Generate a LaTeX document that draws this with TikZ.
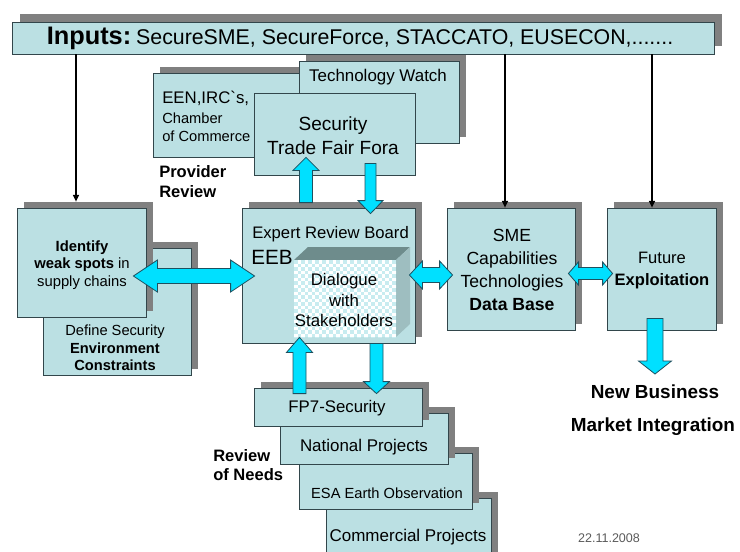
\documentclass[tikz,border=0pt]{standalone}
\usepackage{fontspec}
\setmainfont{Liberation Sans}
\newfontfamily\nolig{Liberation Sans}
\usetikzlibrary{shadows,calc,arrows.meta,fit}
\definecolor{boxfill}{RGB}{187,224,227}
\definecolor{boxline}{RGB}{50,70,75}
\definecolor{shgray}{RGB}{128,128,128}
\definecolor{arrfill}{RGB}{0,224,255}
\definecolor{arrline}{RGB}{30,80,95}
\definecolor{cubetop}{RGB}{110,140,140}
\definecolor{cubeside}{RGB}{158,190,192}
\definecolor{checker}{RGB}{200,236,240}
\definecolor{dategray}{RGB}{90,90,90}
\newcommand\fs[2]{\fontsize{#1}{#2}\selectfont}
\tikzset{
 flat/.style={draw=boxline, fill=boxfill, line width=0.6pt, inner sep=0pt},
 box/.style={flat, drop shadow={shadow xshift=5.25pt, shadow yshift=4.5pt, opacity=1, fill=shgray}},
 fat/.style={fill=arrfill, draw=arrline, line width=0.6pt, line join=miter},
 feed/.style={-{Triangle[width=4.5pt,length=5pt]}, line width=0.9pt, black},
 txt/.style={inner sep=0pt, align=center, text=black},
}
% single fat arrow: start, end, shaft width, head width, head length
\newcommand\sarrow[5]{%
 \draw[fat] let \p1=#1, \p2=#2, \n1={atan2(\y2-\y1,\x2-\x1)}, \n2={veclen(\x2-\x1,\y2-\y1)} in
  ($(\p1)+(\n1+90:#3/2)$) -- ($(\p1)+(\n1:\n2*1pt-#5)+(\n1+90:#3/2)$) -- ($(\p1)+(\n1:\n2*1pt-#5)+(\n1+90:#4/2)$) -- (\p2)
  -- ($(\p1)+(\n1:\n2*1pt-#5)+(\n1-90:#4/2)$) -- ($(\p1)+(\n1:\n2*1pt-#5)+(\n1-90:#3/2)$) -- ($(\p1)+(\n1-90:#3/2)$) -- cycle;}
% double fat arrow
\newcommand\darrow[5]{%
 \draw[fat] let \p1=#1, \p2=#2, \n1={atan2(\y2-\y1,\x2-\x1)}, \n2={veclen(\x2-\x1,\y2-\y1)} in
  (\p1) -- ($(\p1)+(\n1:#5)+(\n1+90:#4/2)$) -- ($(\p1)+(\n1:#5)+(\n1+90:#3/2)$)
  -- ($(\p1)+(\n1:\n2*1pt-#5)+(\n1+90:#3/2)$) -- ($(\p1)+(\n1:\n2*1pt-#5)+(\n1+90:#4/2)$) -- (\p2)
  -- ($(\p1)+(\n1:\n2*1pt-#5)+(\n1-90:#4/2)$) -- ($(\p1)+(\n1:\n2*1pt-#5)+(\n1-90:#3/2)$)
  -- ($(\p1)+(\n1:#5)+(\n1-90:#3/2)$) -- ($(\p1)+(\n1:#5)+(\n1-90:#4/2)$) -- cycle;}
\begin{document}
\begin{tikzpicture}[x=0.75pt,y=-0.75pt]
\useasboundingbox (0,0) rectangle (740,551);
% banner
\node[flat, fit={(12,22) (714,54)}, drop shadow={shadow xshift=6pt, shadow yshift=6pt, opacity=1, fill=shgray}] (banner) {};
\node[txt] (inputs) at (360,38) {{\fs{19}{22}\bfseries Inputs:} {\fs{16}{19}SecureSME, SecureForce, STACCATO, EUSECON,.......}};
% provider review boxes
\node[box, fit={(153,73) (310,157)}] (een) {};
\node[box, fit={(299,61) (459,143)}] (tw) {};
\node[flat, fit={(254,93) (415,175)}] (sec) {};
\node[txt, anchor=west, font=\fs{12.6}{14}] (eent1) at (162,98) {EEN,IRC{\nolig`}s,};
\node[txt, anchor=west, font=\fs{11}{13}] (eent2) at (162,118) {Chamber};
\node[txt, anchor=west, font=\fs{11}{13}] (eent3) at (162,136) {of Commerce};
\node[txt, font=\fs{12.7}{15}] (twt) at (378,77) {Technology Watch};
\node[txt, font=\fs{14.3}{18}] (sect) at (333,136) {Security\\Trade Fair Fora};
\node[txt, anchor=west, align=left, font=\fs{12.4}{15}\bfseries] (prov) at (159,182) {Provider\\Review};
% left boxes
\node[box, fit={(43,248) (191,375)}] (define) {};
\node[box, fit={(17,208) (146,317)}] (weak) {};
\node[txt, font=\fs{11.1}{13.2}] (weakt) at (82,265) {\textbf{Identify}\\\textbf{weak spots} in\\supply chains};
\node[txt, font=\fs{11}{13.2}] (definet) at (115,348) {Define Security\\\textbf{Environment}\\\textbf{Constraints}};
% EEB
\node[box, fit={(242,208) (415,343)}] (eeb) {};
\node[txt, anchor=west, font=\fs{12.5}{15}] (eebt1) at (252,234) {Expert Review Board};
\node[txt, anchor=west, font=\fs{15.5}{18}] (eebt2) at (251,257) {EEB};
% cube
\fill[cubetop] (294,260) -- (308,247) -- (410,247) -- (396,260) -- cycle;
\fill[cubeside] (396,260) -- (410,247) -- (410,324) -- (396,337) -- cycle;
\fill[white] (294,260) rectangle (396,337);
\begin{scope}
\clip (294,260) rectangle (396,337);
\foreach \j in {0,...,22} {
  \pgfmathtruncatemacro\st{mod(\j,2)}
  \foreach \k in {0,...,14} {
    \fill[checker] ({294+(2*\k+\st)*3.5},{260+\j*3.5}) rectangle ++(3.5,3.5);
  }
}
\end{scope}
\node[txt, font=\fs{12.6}{15.4}] (dial) at (344,300) {Dialogue\\with\\Stakeholders};
% right boxes
\node[box, fit={(447,208) (575,330)}] (sme) {};
\node[txt, font=\fs{13.2}{17.3}] (smet) at (512,270) {SME\\Capabilities\\Technologies\\\textbf{Data Base}};
\node[box, fit={(607,208) (716,330)}] (fut) {};
\node[txt, font=\fs{12.4}{16.5}] (futt) at (662,271) {Future\\\textbf{Exploitation}};
% needs stack
\node[box, fit={(326,498) (491,558)}] (comm) {};
\node[box, fit={(299,453) (472,509)}] (esa) {};
\node[box, fit={(280,413) (448,464)}] (natl) {};
\node[box, fit={(254,388) (422,426)}] (fp7) {};
\node[txt, font=\fs{12.6}{15}] (fp7t) at (337,408) {FP7-Security};
\node[txt, font=\fs{12.7}{15}] (natlt) at (364,447) {National Projects};
\node[txt, font=\fs{11}{13}] (esat) at (387,493) {ESA Earth Observation};
\node[txt, font=\fs{12.75}{15}] (commt) at (408,537) {Commercial Projects};
\node[txt, anchor=west, align=left, font=\fs{12.4}{14.3}\bfseries] (needs) at (213,465) {Review\\of Needs};
% outputs
\node[txt, font=\fs{14.2}{17}\bfseries] (nb) at (655,392) {New Business};
\node[txt, font=\fs{14.2}{17}\bfseries] (mi) at (653,427) {Market Integration};
\node[txt, text=dategray, font=\fs{9.4}{11}] (date) at (609,538) {22.11.2008};
\coordinate (futend) at (655,374);
% thin input arrows
\draw[feed] (76,0 |- banner.south) -- ($(76,0 |- weak.north)+(0,-6)$);
\draw[feed] (505,0 |- banner.south) -- (505,0 |- sme.north);
\draw[feed] (652,0 |- banner.south) -- (652,0 |- fut.north);
% fat arrows
\sarrow{($(306,0 |- eeb.north)+(0,-5)$)}{($(306,0 |- sec.south)+(0,-18)$)}{9.75pt}{19.5pt}{9.75pt}
\sarrow{($(370.5,0 |- sec.south)+(0,-12)$)}{($(370.5,0 |- eeb.north)+(0,6)$)}{8.25pt}{18.75pt}{9.75pt}
\sarrow{($(299.5,0 |- fp7.north)+(0,6)$)}{($(299.5,0 |- eeb.south)+(0,-6)$)}{9.75pt}{19.5pt}{11.25pt}
\sarrow{(376.5,0 |- eeb.south)}{($(376.5,0 |- fp7.north)+(0,6)$)}{9.75pt}{19.5pt}{9pt}
\darrow{($(weak.east |- 0,276)+(-13,0)$)}{($(eeb.west |- 0,276)+(13,0)$)}{11.25pt}{24pt}{18pt}
\darrow{($(eeb.east |- 0,275)+(-6,0)$)}{($(sme.west |- 0,275)+(6,0)$)}{11.25pt}{21pt}{9.75pt}
\darrow{($(sme.east |- 0,273.5)+(-7,0)$)}{($(fut.west |- 0,273.5)+(6,0)$)}{9pt}{17.25pt}{7.5pt}
\sarrow{($(655,0 |- fut.south)+(0,-12)$)}{(futend)}{12pt}{24.75pt}{9.75pt}
\end{tikzpicture}
\end{document}
